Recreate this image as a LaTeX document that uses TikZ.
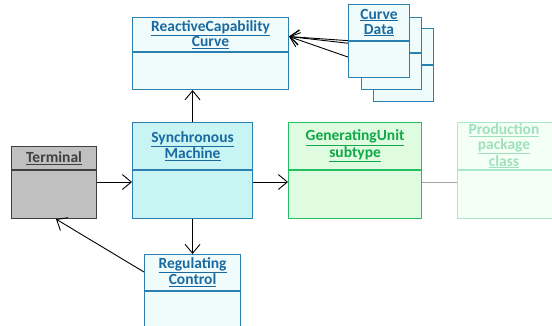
\documentclass[tikz,border=0pt]{standalone}
\usepackage{fontspec}
\setmainfont{Carlito}
\usetikzlibrary{arrows.meta,backgrounds,calc}
\definecolor{bluebd}{HTML}{2A80B0}
\definecolor{bluetx}{HTML}{1A6AA0}
\definecolor{palecy}{HTML}{F0FCFC}
\definecolor{smcy}{HTML}{C8F4F4}
\definecolor{grbd}{HTML}{404040}
\definecolor{grfill}{HTML}{C0C0C0}
\definecolor{gnbd}{HTML}{22C060}
\definecolor{gntx}{HTML}{10A848}
\definecolor{gnfill}{HTML}{E0FCE0}
\definecolor{ppbd}{HTML}{A8EAC8}
\definecolor{pptx}{HTML}{A0E0BC}
\definecolor{ppfill}{HTML}{F4FFF6}
\tikzset{
  cls/.style={draw, rectangle, anchor=north west, inner sep=0pt, line width=1.1pt},
  bluecls/.style={cls, draw=bluebd, fill=palecy},
  ttl/.style={font=\bfseries\fontsize{15.5}{15}\selectfont, align=center, inner sep=0pt},
  divider/.style={line width=1.1pt},
  arr/.style={-{Straight Barb[length=9pt,width=15pt,line width=0.9pt]}, line width=0.9pt, black},
}
\begin{document}
\begin{tikzpicture}[x=1pt,y=-1pt]
\useasboundingbox (0,0) rectangle (552,325);
% Curve Data stack
\node[bluecls, minimum width=60pt, minimum height=73pt] (cd3) at (373,28) {};
\draw[divider, bluebd] (cd3.west |- 0,65) -- (cd3.east |- 0,65);
\node[bluecls, minimum width=60pt, minimum height=72pt] (cd2) at (361,17) {};
\draw[divider, bluebd] (cd2.west |- 0,53) -- (cd2.east |- 0,53);
\node[bluecls, minimum width=61pt, minimum height=73pt] (cd1) at (348,4) {};
\draw[divider, bluebd] (cd1.west |- 0,41) -- (cd1.east |- 0,41);
\node[ttl, text=bluetx] (cdt) at ($(cd1.north)+(0,18.5)$) {\underline{Curve}\\\underline{Data}};
% ReactiveCapability Curve
\node[bluecls, minimum width=156pt, minimum height=72pt] (rcc) at (132,17) {};
\draw[divider, bluebd] (rcc.west |- 0,52) -- (rcc.east |- 0,52);
\node[ttl, text=bluetx] (rcct) at ($(rcc.north)+(0,17.5)$) {\underline{ReactiveCapability}\\\underline{Curve}};
% Synchronous Machine
\node[cls, draw=bluebd, fill=smcy, minimum width=120pt, minimum height=96pt] (sm) at (132,122) {};
\draw[divider, bluebd] (sm.west |- 0,170) -- (sm.east |- 0,170);
\node[ttl, text=bluetx] (smt) at ($(sm.north)+(0,24)$) {\underline{Synchronous}\\\underline{Machine}};
% Terminal
\node[cls, draw=grbd, fill=grfill, minimum width=85pt, minimum height=72pt] (term) at (11,146) {};
\draw[divider, grbd] (term.west |- 0,170) -- (term.east |- 0,170);
\node[ttl, text=grbd] (termt) at ($(term.north)+(0,12)$) {\underline{Terminal}};
% GeneratingUnit subtype
\node[cls, draw=gnbd, fill=gnfill, minimum width=133pt, minimum height=96pt] (gu) at (288,122) {};
\draw[divider, gnbd] (gu.west |- 0,170) -- (gu.east |- 0,170);
\node[ttl, text=gntx] (gut) at ($(gu.north)+(0,24)$) {\underline{GeneratingUnit}\\\underline{subtype}};
% Production package class
\node[cls, draw=ppbd, fill=ppfill, minimum width=100pt, minimum height=96pt] (pp) at (457,122) {};
\draw[divider, ppbd] (pp.west |- 0,170) -- (pp.east |- 0,170);
\node[ttl, text=pptx] (ppt) at (504,146) {\underline{Production}\\\underline{package}\\\underline{class}};
% Regulating Control
\node[bluecls, minimum width=96pt, minimum height=80pt] (rc) at (144,254) {};
\draw[divider, bluebd] (rc.west |- 0,291) -- (rc.east |- 0,291);
\node[ttl, text=bluetx] (rct) at ($(rc.north)+(0,18)$) {\underline{Regulating}\\\underline{Control}};
% connectors
\begin{scope}[on background layer]
\draw[arr] ([yshift=-16pt]cd1.west) -- ([yshift=17pt]rcc.east);
\draw[arr] ([yshift=12pt]cd2.west) -- ([yshift=17pt]rcc.east);
\draw[arr] ([yshift=19pt]cd3.west) -- ([yshift=17pt]rcc.east);
\end{scope}
\draw[arr] (sm.north) -- (sm.north |- rcc.south);
\draw[arr] (term.east |- 0,182) -- (sm.west |- 0,182);
\draw[arr] (sm.east |- 0,182) -- (gu.west |- 0,182);
\draw[line width=0.9pt, gray!70] (gu.east |- 0,182) -- (pp.west |- 0,182);
\draw[arr] (sm.south) -- (sm.south |- rc.north);
\draw[arr] (rc.west |- 0,272) -- (term.south -| 56,0);
\end{tikzpicture}
\end{document}
